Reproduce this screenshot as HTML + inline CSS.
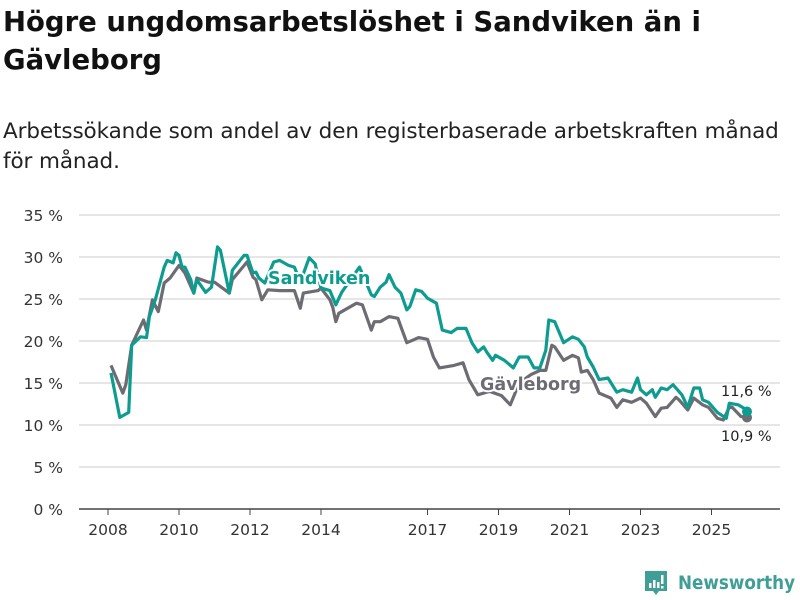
<!DOCTYPE html>
<html><head><meta charset="utf-8">
<style>
body{margin:0;width:800px;height:600px;background:#fff;overflow:hidden;font-family:"DejaVu Sans","Liberation Sans",sans-serif;}
#title{position:absolute;left:3px;top:3px;margin:0;font-size:27.5px;font-weight:bold;line-height:38px;color:#111;letter-spacing:0px;white-space:nowrap;}
#sub{position:absolute;left:3px;top:117px;margin:0;font-size:21.5px;line-height:30px;color:#222;letter-spacing:-0.1px;white-space:nowrap;}
svg{position:absolute;left:0;top:0;}
</style></head><body>
<h1 id="title">Högre ungdomsarbetslöshet i Sandviken än i<br>Gävleborg</h1>
<p id="sub">Arbetssökande som andel av den registerbaserade arbetskraften månad<br>för månad.</p>
<svg id="chart" width="800" height="600"></svg>
<script>
const yTicks=[0,5,10,15,20,25,30,35];
const xTickYears=[2008,2010,2012,2014,2017,2019,2021,2023,2025];
const sandMonths=[1,4,7,8,11,13,14,16,19,20,22,23,24,25,26,28,29,30,33,35,37,38,41,42,46,47,49,50,51,53,56,58,61,63,65,68,70,72,75,77,79,85,89,90,92,94,95,97,99,101,102,104,106,108,111,113,116,118,121,123,125,127,128,130,131,134,137,139,142,144,146,148,149,151,154,157,159,161,162,164,166,169,172,174,177,179,180,182,184,185,187,189,191,194,196,198,200,201,203,206,209,210,213,215,216];
const sandValues=[16.2,10.9,11.5,19.5,20.5,20.4,22.9,24.9,28.8,29.6,29.3,30.5,30.2,28.8,28.8,27.3,25.7,27.3,25.8,26.4,31.2,30.8,25.7,28.4,30.2,30.2,28.1,28.2,27.5,26.9,29.4,29.6,29,28.8,27,29.9,29.2,26.3,26,24.3,25.8,28.8,25.5,25.3,26.4,27,27.9,26.4,25.7,23.7,24.1,26.1,25.9,25.1,24.5,21.3,21,21.5,21.5,19.8,18.7,19.3,18.7,17.7,18.3,17.7,16.8,18.1,18.1,16.8,16.8,18.9,22.5,22.3,19.8,20.5,20.2,19.3,18.1,16.9,15.4,15.6,13.9,14.2,13.9,15.6,14.2,13.6,14.2,13.3,14.4,14.2,14.8,13.6,12.1,14.4,14.4,13,12.7,11.5,10.8,12.6,12.4,12,11.6];
const gavMonths=[1,5,6,8,12,13,15,17,19,21,24,26,29,30,34,36,41,42,47,49,50,52,54,58,63,65,66,71,72,75,76,77,78,84,86,89,90,92,95,98,99,101,103,105,108,110,112,117,120,122,125,129,133,136,139,143,146,148,150,151,154,157,159,160,162,164,166,170,172,174,177,180,182,185,187,189,192,193,196,198,201,203,206,208,210,211,214,216];
const gavValues=[17.1,13.8,14.8,19.5,22.5,21.3,24.9,23.5,26.9,27.5,29,28.1,25.7,27.5,27,27,25.7,27.3,29.4,27.6,27.3,24.9,26.1,26,26,23.9,25.7,26,26.3,24.9,24,22.3,23.3,24.5,24.3,21.3,22.3,22.3,22.9,22.7,21.7,19.8,20.1,20.4,20.2,18.1,16.8,17.1,17.4,15.4,13.6,14,13.5,12.4,15,16,16.5,16.5,19.5,19.3,17.7,18.3,18,16.3,16.5,15.4,13.8,13.2,12.1,13,12.7,13.2,12.6,11,12,12.1,13.3,13,11.8,13.2,12.4,12.1,10.8,10.6,12.1,12.1,11,10.9];
const NS='http://www.w3.org/2000/svg';
const svg=document.getElementById('chart');
const X0=79,X1=780;
function yS(v){return 509-v*8.4;}
function xM(m){return 108+m/12*35.5;}
function mk(tag,attrs,parent){const e=document.createElementNS(NS,tag);for(const k in attrs)e.setAttribute(k,attrs[k]);(parent||svg).appendChild(e);return e;}
yTicks.forEach(t=>{
  const l=mk('line',{x1:X0,x2:X1,y1:yS(t),y2:yS(t),stroke:t===0?'#444':'#ddd','stroke-width':1.5});
  
  
  const tx=mk('text',{x:63,y:yS(t)+6,'text-anchor':'end','font-size':15.5,fill:'#333'});
  tx.textContent=t+' %';
  
  
});
xTickYears.forEach(yr=>{
  const x=xM((yr-2008)*12);
  const tk=mk('line',{x1:x,x2:x,y1:509,y2:515,stroke:'#444','stroke-width':1});
  
  
  const tx=mk('text',{x:x,y:535,'text-anchor':'middle','font-size':15.5,fill:'#333'});
  tx.textContent=yr;
  
  
});
function path(ms,vs){return ms.map((m,i)=>(i?'L':'M')+xM(m).toFixed(1)+','+yS(vs[i]).toFixed(1)).join('');}
const gp=mk('path',{d:path(gavMonths,gavValues),fill:'none',stroke:'#6d6c72','stroke-width':3.2,'stroke-linejoin':'round'});


const sp=mk('path',{d:path(sandMonths,sandValues),fill:'none',stroke:'#0e9c90','stroke-width':3.2,'stroke-linejoin':'round'});


const gd=mk('circle',{cx:xM(gavMonths[gavMonths.length-1]),cy:yS(gavValues[gavValues.length-1]),r:5,fill:'#6d6c72'});


const sd=mk('circle',{cx:xM(sandMonths[sandMonths.length-1]),cy:yS(sandValues[sandValues.length-1]),r:5,fill:'#0e9c90'});


function label(txt,x,y,fill,bold,size,name){
  const t=mk('text',{x:x,y:y,fill:fill,'font-size':size,'font-weight':bold?'bold':'normal',stroke:'#fff','stroke-width':4,'paint-order':'stroke','stroke-linejoin':'round'});
  t.textContent=txt;
  
  
}
label('Sandviken',268,284,'#0e9c90',true,17.5,'sandviken-label');
label('Gävleborg',480,390,'#6d6c72',true,17.5,'gavleborg-label');
label('11,6 %',721,396,'#222',false,14.5,'sandviken-end-value');
label('10,9 %',721,441,'#222',false,14.5,'gavleborg-end-value');
</script>
<svg width="800" height="600" style="pointer-events:none">
  <path d="M645 571h22v20h-8l-3 4-3-4h-8z" fill="#3f9e95"/>
  <rect x="649" y="583" width="2.5" height="5" fill="#fff"/>
  <rect x="653" y="580" width="2.5" height="8" fill="#fff"/>
  <rect x="657" y="582" width="2.5" height="6" fill="#fff"/>
  <rect x="661" y="575" width="2.5" height="9" fill="#fff"/>
  <rect x="661" y="586" width="2.5" height="2.5" fill="#fff"/>
  <text x="678" y="589" font-size="19" font-weight="bold" fill="#3f9e95" font-family="'DejaVu Sans','Liberation Sans',sans-serif" textLength="117" lengthAdjust="spacingAndGlyphs">Newsworthy</text>
</svg>
</body></html>
